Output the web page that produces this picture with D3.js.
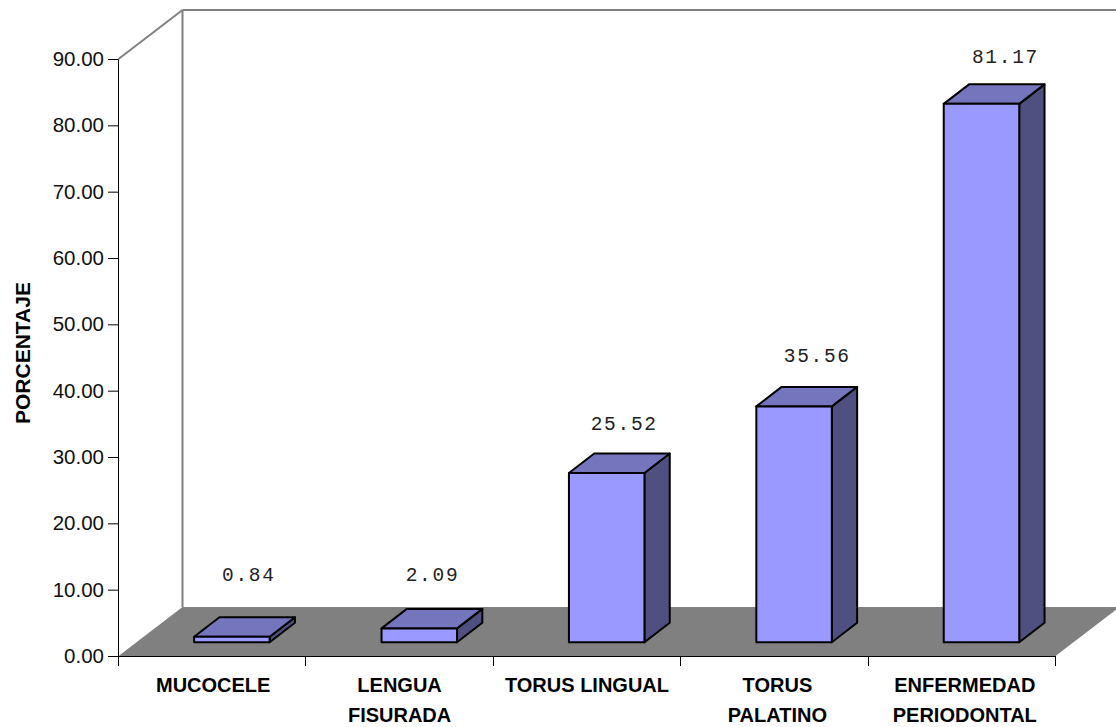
<!DOCTYPE html>
<html>
<head>
<meta charset="utf-8">
<script src="https://cdn.jsdelivr.net/npm/d3@7"></script>
<style>
html,body{margin:0;padding:0;background:#fff;}
svg{display:block;}
</style>
</head>
<body>
<svg id="chart" width="1116" height="727"></svg>
<script>
// Chart data
const categories = ["MUCOCELE", "LENGUA FISURADA", "TORUS LINGUAL", "TORUS PALATINO", "ENFERMEDAD PERIODONTAL"];
const categoryLines = [["MUCOCELE"], ["LENGUA", "FISURADA"], ["TORUS LINGUAL"], ["TORUS", "PALATINO"], ["ENFERMEDAD", "PERIODONTAL"]];
const values = [0.84, 2.09, 25.52, 35.56, 81.17];
const yTicks = [0, 10, 20, 30, 40, 50, 60, 70, 80, 90];
const yTitle = "PORCENTAJE";

// Label placement, relative to each bar
const valueLabelShift = [17, 13.2, 17.5, 23.2, 24];
const valueLabelRaise = [56, 47.7, 43, 44.4, 40.4];
const categoryLabelShift = [1, 0, 0, 3, 3];

// Plot frame and 3D projection
const x0 = 118.5, x1 = 1055.5, yBase = 656, yTop = 59;
const depthX = 64, depthY = -49;       // full floor depth
const barInsetX = 0.27, barInsetY = 0.28; // front of a bar, as a share of the floor depth
const barDepthX = 25.3, barDepthY = -19.5;
const barWidth = 75.5;

const svg = d3.select("#chart");
const x = d3.scaleBand().domain(categories).range([x0, x1]);
const y = d3.scaleLinear().domain([0, 90]).range([yBase, yTop]);
const poly = pts => pts.map(p => p.join(",")).join(" ");

// Floor, side wall edge and back wall edges
svg.append("polygon")
  .attr("points", poly([[x0, yBase], [x0 + depthX, yBase + depthY], [x1 + depthX, yBase + depthY], [x1, yBase]]))
  .attr("fill", "#808080");
const wallLines = [
  [x0, yTop, x0 + depthX, yTop + depthY],
  [x0 + depthX, yTop + depthY, x0 + depthX, yBase + depthY],
  [x0 + depthX, yTop + depthY, x1 + depthX, yTop + depthY]
];
svg.selectAll("line.wall").data(wallLines).join("line")
  .attr("class", "wall")
  .attr("x1", d => d[0]).attr("y1", d => d[1]).attr("x2", d => d[2]).attr("y2", d => d[3])
  .attr("stroke", "#808080").attr("stroke-width", 2);

// Y axis
const yAxis = svg.append("g")
  .attr("transform", `translate(${x0 - 0.5},0)`)
  .call(d3.axisLeft(y).tickValues(yTicks).tickSize(10).tickPadding(4).tickFormat(d3.format(".2f")));
yAxis.selectAll("path,line").attr("stroke", "#000").attr("stroke-width", 1);
yAxis.selectAll("text")
  .attr("font-family", "'Liberation Sans', Arial, sans-serif")
  .attr("font-size", 20.5).attr("fill", "#111");

// X axis baseline and category ticks
const xEdges = categories.map(c => x(c)).concat([x1]);
svg.append("line").attr("x1", x0).attr("x2", x1).attr("y1", yBase + 0.5).attr("y2", yBase + 0.5)
  .attr("stroke", "#000");
svg.selectAll("line.xtick").data(xEdges).join("line")
  .attr("class", "xtick")
  .attr("x1", d => Math.floor(d) + 0.5).attr("x2", d => Math.floor(d) + 0.5)
  .attr("y1", yBase).attr("y2", yBase + 10)
  .attr("stroke", "#000");

// Bars as three faces: side, top, front
const bars = svg.selectAll("g.bar")
  .data(categories.map((c, i) => ({ c, v: values[i], i })))
  .join("g").attr("class", "bar");
const frontLeft = d => x(d.c) + x.bandwidth() / 2 + depthX * barInsetX - barWidth / 2 + 2.4;
const barBase = yBase + depthY * barInsetY;
const barTop = d => barBase - (yBase - y(d.v));
const outline = s => s.attr("stroke", "#000").attr("stroke-width", 2).attr("stroke-linejoin", "round");

bars.append("polygon").call(outline).attr("fill", "#4f4f80")
  .attr("points", d => {
    const r = frontLeft(d) + barWidth, t = barTop(d);
    return poly([[r, t], [r + barDepthX, t + barDepthY], [r + barDepthX, barBase + barDepthY], [r, barBase]]);
  });
bars.append("polygon").call(outline).attr("fill", "#7575be")
  .attr("points", d => {
    const l = frontLeft(d), t = barTop(d);
    return poly([[l, t], [l + barDepthX, t + barDepthY], [l + barWidth + barDepthX, t + barDepthY], [l + barWidth, t]]);
  });
bars.append("polygon").call(outline).attr("fill", "#9999ff")
  .attr("points", d => {
    const l = frontLeft(d), t = barTop(d);
    return poly([[l, t], [l + barWidth, t], [l + barWidth, barBase], [l, barBase]]);
  });

// Value labels
bars.append("text")
  .attr("x", d => frontLeft(d) + barWidth / 2 + valueLabelShift[d.i])
  .attr("y", d => barTop(d) - valueLabelRaise[d.i])
  .attr("text-anchor", "middle")
  .attr("font-family", "'Liberation Mono', monospace")
  .attr("font-size", 19.5).attr("letter-spacing", 1.7).attr("fill", "#222")
  .text(d => d.v.toFixed(2));

// Category labels
const catLabels = svg.selectAll("text.cat").data(categories).join("text")
  .attr("class", "cat")
  .attr("text-anchor", "middle")
  .attr("font-family", "'Liberation Sans', Arial, sans-serif")
  .attr("font-size", 20).attr("font-weight", "bold").attr("fill", "#000");
catLabels.selectAll("tspan")
  .data((d, i) => categoryLines[i].map(t => ({ t, cx: x(d) + x.bandwidth() / 2 + categoryLabelShift[i] })))
  .join("tspan")
  .attr("x", d => d.cx)
  .attr("y", (d, j) => 692 + j * 30)
  .text(d => d.t);

// Y axis title, cut off at the top of its box
svg.append("clipPath").attr("id", "title-box")
  .append("rect").attr("x", 0).attr("y", 283).attr("width", 60).attr("height", 160);
svg.append("g").attr("clip-path", "url(#title-box)")
  .append("text")
  .attr("transform", "translate(30,424) rotate(-90)")
  .attr("text-anchor", "start")
  .attr("font-family", "'Liberation Sans', Arial, sans-serif")
  .attr("font-size", 21).attr("font-weight", "bold").attr("fill", "#000")
  .text(yTitle);
</script>
</body>
</html>
